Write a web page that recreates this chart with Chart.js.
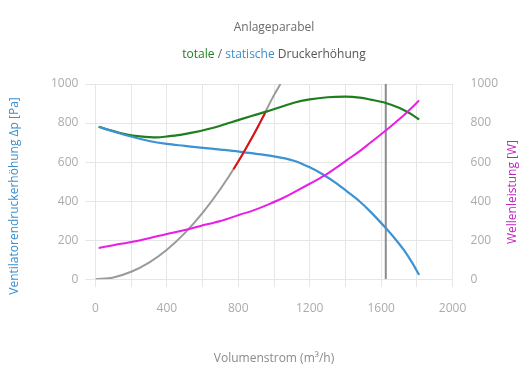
<!DOCTYPE html>
<html>
<head>
<meta charset="utf-8">
<script src="https://cdn.jsdelivr.net/npm/chart.js@4.4.0/dist/chart.umd.min.js"></script>
<style>
  html, body { margin: 0; padding: 0; background: #fff; }
  #wrap { width: 530px; height: 390px; }
</style>
</head>
<body>
<div id="wrap"><canvas id="chart"></canvas></div>
<script>
// values
const staticFlow = [18, 100, 215, 300, 400, 500, 588, 700, 803, 900, 976, 1111, 1200, 1279, 1350, 1410, 1480, 1541, 1626, 1680, 1727, 1770, 1813];
const staticPressure = [781, 757, 727, 708, 693, 683, 674, 664, 654, 642, 633, 607, 573, 534, 491, 449, 398, 345, 262, 205, 150, 90, 22];

const totalFlow = [18, 100, 177, 250, 345, 400, 476, 550, 626, 700, 803, 900, 962, 1050, 1111, 1200, 1300, 1400, 1480, 1541, 1626, 1700, 1760, 1813];
const totalPressure = [781, 759, 741, 732, 727, 731, 739, 752, 768, 786, 816, 843, 860, 886, 904, 921, 932, 935, 930, 920, 903, 878, 850, 818];

const powerFlow = [18, 100, 215, 300, 400, 500, 588, 700, 803, 900, 976, 1050, 1111, 1200, 1279, 1350, 1410, 1480, 1541, 1626, 1680, 1727, 1770, 1813];
const powerValue = [160, 174, 193, 210, 232, 252, 273, 298, 329, 358, 386, 416, 445, 489, 529, 572, 611, 656, 700, 762, 803, 840, 877, 916];

const systemFlow = [0, 100, 200, 300, 400, 500, 600, 700, 800, 900, 1000, 1036];
const systemPressure = [0, 9, 38, 85, 151, 236, 340, 462, 603, 764, 943, 1000];

const rangeFlow = [773, 820, 870, 910, 950];
const rangePressure = [563, 634, 714, 781, 851];

const markerFlow = [1626, 1626];
const markerPressure = [0, 1000];

const xTicks = [0, 400, 800, 1200, 1600, 2000];

const subtitleParts = ['totale', ' / ', 'statische', ' Druckerhöhung'];
const subtitleColors = ['#1f7f1f', '#666666', '#3b8fcc', '#555555'];
const leftTitle = 'Ventilatorendruckerhöhung Δp [Pa]';
const rightTitle = 'Wellenleistung [W]';

const FONT = '"Open Sans", "Noto Sans", sans-serif';
const GRID = '#e6e6e6';
const TICK = '#ababab';

function toPoints(xs, ys) {
  return xs.map((x, i) => ({x: x, y: ys[i]}));
}

const titlesPlugin = {
  id: 'customTitles',
  afterDraw(chart) {
    const ctx = chart.ctx;
    ctx.save();
    ctx.font = '12px ' + FONT;
    ctx.textBaseline = 'middle';

    // coloured subtitle, drawn where the subtitle box sits
    const text = subtitleParts.join('');
    const box = chart.boxes.find(b => b.options && b.options.text === text);
    if (box) {
      const y = box.top + box.options.padding.top + 12 * 1.2 / 2;
      const total = ctx.measureText(text).width;
      let x = (box.left + box.right) / 2 - total / 2;
      ctx.textAlign = 'left';
      subtitleParts.forEach((part, i) => {
        ctx.fillStyle = subtitleColors[i];
        ctx.fillText(part, x, y);
        x += ctx.measureText(part).width;
      });
    }

    // axis titles, both reading bottom to top
    ctx.textAlign = 'center';
    ctx.save();
    ctx.translate(15, 196);
    ctx.rotate(-Math.PI / 2);
    ctx.fillStyle = '#3b8fcc';
    ctx.fillText(leftTitle, 0, 0);
    ctx.restore();

    ctx.save();
    ctx.translate(513, 192);
    ctx.rotate(-Math.PI / 2);
    ctx.fillStyle = '#c21fc2';
    ctx.fillText(rightTitle, 0, 0);
    ctx.restore();

    ctx.restore();
  }
};

Chart.defaults.font.family = FONT;
Chart.defaults.font.size = 12;

const plain = v => String(v);

const ctx = document.getElementById('chart').getContext('2d');
new Chart(ctx, {
  type: 'line',
  data: {
    datasets: [
      {label: 'Betriebspunkt', data: toPoints(markerFlow, markerPressure), borderColor: '#8c8c8c', borderWidth: 2, order: 6},
      {label: 'Anlageparabel', data: toPoints(systemFlow, systemPressure), borderColor: '#9a9a9a', borderWidth: 2, order: 5},
      {label: 'totale Druckerhöhung', data: toPoints(totalFlow, totalPressure), borderColor: '#1f7f1f', borderWidth: 2.2, order: 4},
      {label: 'statische Druckerhöhung', data: toPoints(staticFlow, staticPressure), borderColor: '#3b93d3', borderWidth: 2.2, order: 3},
      {label: 'Arbeitsbereich', data: toPoints(rangeFlow, rangePressure), borderColor: '#dd1111', borderWidth: 2, order: 2},
      {label: 'Wellenleistung', data: toPoints(powerFlow, powerValue), borderColor: '#e81ee8', borderWidth: 2, yAxisID: 'y2', order: 1}
    ]
  },
  options: {
    responsive: true,
    maintainAspectRatio: false,
    animation: false,
    elements: {point: {radius: 0}, line: {cubicInterpolationMode: 'monotone'}},
    layout: {padding: {left: 44, right: 14, top: 0, bottom: 0}},
    plugins: {
      legend: {display: false},
      tooltip: {enabled: false},
      title: {
        display: true,
        text: 'Anlageparabel',
        color: '#6b6b6b',
        fullSize: false,
        font: {size: 12, weight: 'normal'},
        padding: {top: 20, bottom: 6}
      },
      subtitle: {
        display: true,
        text: subtitleParts.join(''),
        color: 'rgba(0,0,0,0)',
        fullSize: false,
        font: {size: 12},
        padding: {top: 7.4, bottom: 21.8}
      }
    },
    scales: {
      x: {
        type: 'linear',
        min: 0,
        max: 2000,
        grid: {color: GRID, tickLength: 8},
        border: {color: GRID},
        ticks: {
          stepSize: 200,
          color: TICK,
          padding: 14,
          maxRotation: 0,
          callback: v => xTicks.includes(v) ? String(v) : ''
        },
        title: {
          display: true,
          text: 'Volumenstrom (m³/h)',
          color: '#8a8a8a',
          padding: {top: 22, bottom: 24}
        }
      },
      y: {
        min: 0,
        max: 1000,
        grid: {color: GRID, tickLength: 10},
        border: {color: GRID},
        ticks: {stepSize: 200, color: TICK, padding: 7, callback: plain}
      },
      y2: {
        position: 'right',
        min: 0,
        max: 1000,
        grid: {drawOnChartArea: false, drawTicks: false},
        border: {display: false},
        ticks: {stepSize: 200, color: TICK, padding: 18, callback: plain}
      }
    }
  },
  plugins: [titlesPlugin]
});
</script>
</body>
</html>
